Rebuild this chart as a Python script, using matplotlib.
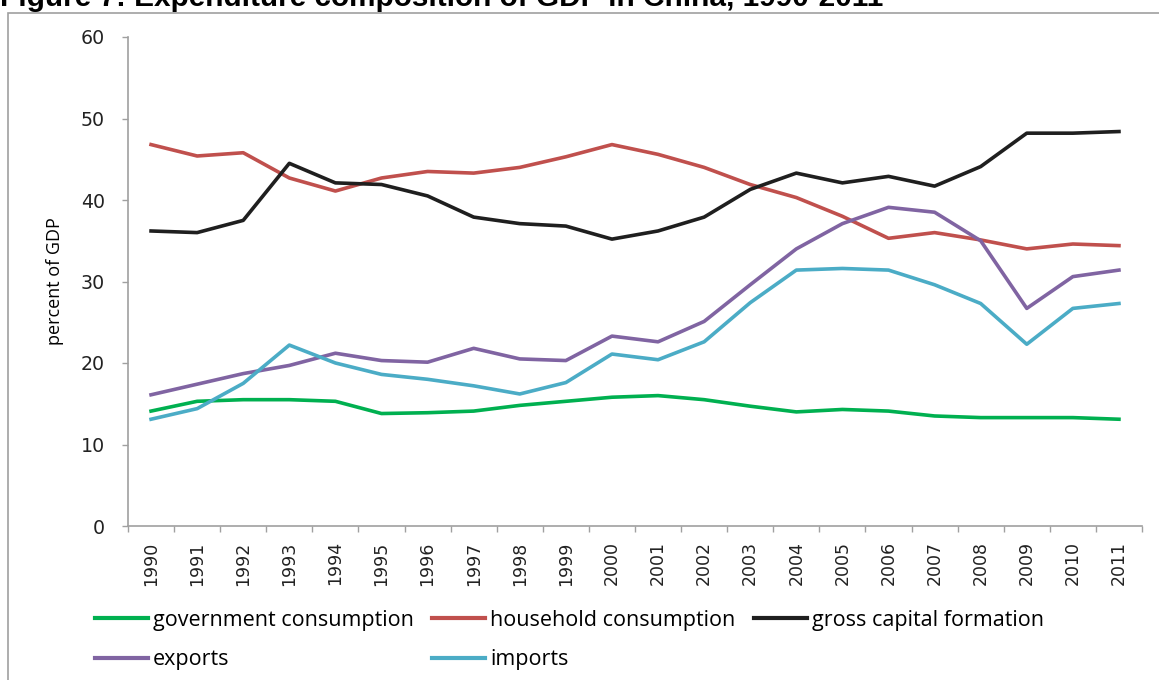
import numpy as np
import matplotlib.pyplot as plt
from matplotlib.patches import Rectangle

# Dados (percentagem do PIB)
anos = [str(a) for a in range(1990, 2012)]
governo = [14.1, 15.3, 15.5, 15.5, 15.3, 13.8, 13.9, 14.1, 14.8, 15.3, 15.8,
           16.0, 15.5, 14.7, 14.0, 14.3, 14.1, 13.5, 13.3, 13.3, 13.3, 13.1]
familias = [46.8, 45.4, 45.8, 42.7, 41.1, 42.7, 43.5, 43.3, 44.0, 45.3, 46.8,
            45.6, 44.0, 41.9, 40.3, 38.0, 35.3, 36.0, 35.1, 34.0, 34.6, 34.4]
capital = [36.2, 36.0, 37.5, 44.5, 42.1, 41.9, 40.5, 37.9, 37.1, 36.8, 35.2,
           36.2, 37.9, 41.3, 43.3, 42.1, 42.9, 41.7, 44.1, 48.2, 48.2, 48.4]
exportacoes = [16.1, 17.4, 18.7, 19.7, 21.2, 20.3, 20.1, 21.8, 20.5, 20.3, 23.3,
               22.6, 25.1, 29.6, 34.0, 37.1, 39.1, 38.5, 35.0, 26.7, 30.6, 31.4]
importacoes = [13.1, 14.4, 17.5, 22.2, 20.0, 18.6, 18.0, 17.2, 16.2, 17.6, 21.1,
               20.4, 22.6, 27.4, 31.4, 31.6, 31.4, 29.6, 27.3, 22.3, 26.7, 27.3]

series = [
    ("government consumption", governo, "#00B050"),
    ("household consumption", familias, "#C0504D"),
    ("gross capital formation", capital, "#1F1F1F"),
    ("exports", exportacoes, "#8064A2"),
    ("imports", importacoes, "#4BACC6"),
]

W, H = 1159, 680
fig = plt.figure(figsize=(W / 100, H / 100), dpi=100)
ax = fig.add_axes([128 / W, 1 - 526 / H, (1142 - 128) / W, (526 - 37) / H])

x = np.arange(len(anos))
linhas = {}
for nome, valores, cor in series:
    linhas[nome], = ax.plot(x, valores, color=cor, lw=2.6, label=nome,
                            solid_joinstyle='round')

ax.set_xlim(-0.5, len(anos) - 0.5)
ax.set_ylim(0, 60)
ax.set_yticks(range(0, 61, 10))
ax.set_xticks(x)
ax.set_xticklabels(anos, rotation=90, fontsize=12.5, family='DejaVu Sans', color='#222222')
ax.set_xticks(np.arange(-0.5, len(anos)), minor=True)
ax.tick_params(axis='x', which='major', length=0, pad=11)
ax.tick_params(axis='x', which='minor', length=4.5, width=1, color='#A0A0A0', direction='out')
ax.tick_params(axis='y', length=4.5, width=1, color='#A0A0A0', labelsize=13.7,
               labelcolor='#222222', pad=12)
for s in ['top', 'right']:
    ax.spines[s].set_visible(False)
for s in ['left', 'bottom']:
    ax.spines[s].set_color('#A0A0A0')
    ax.spines[s].set_linewidth(1.2)
ax.set_ylabel("percent of GDP", fontsize=13, family='Open Sans', labelpad=12)

# ordem por colunas para a legenda ficar por linhas como no original
ordem = ["government consumption", "exports", "household consumption", "imports",
         "gross capital formation"]
leg = fig.legend([linhas[n] for n in ordem], ordem, loc='center left',
                 bbox_to_anchor=(95 / W, 1 - 640 / H), ncol=3,
                 frameon=False, prop={'family': 'Open Sans', 'size': 15.5},
                 handlelength=2.45, handletextpad=0.25, columnspacing=0.85,
                 labelspacing=0.85, borderaxespad=0, borderpad=0)
for linha in leg.get_lines():
    linha.set_linewidth(3)

# moldura cinzenta em volta do grafico
fig.patches.append(Rectangle((8 / W, -0.1), 1.2, 1.1 - 13 / H, transform=fig.transFigure,
                             fill=False, edgecolor='#A0A0A0', lw=1.2))

fig.text(0, 1 - 6 / H, "Figure 7: Expenditure composition of GDP in China, 1990-2011",
         fontsize=21.4, fontweight='bold', family='Liberation Sans', va='baseline')

fig.savefig("out.png", dpi=100)
